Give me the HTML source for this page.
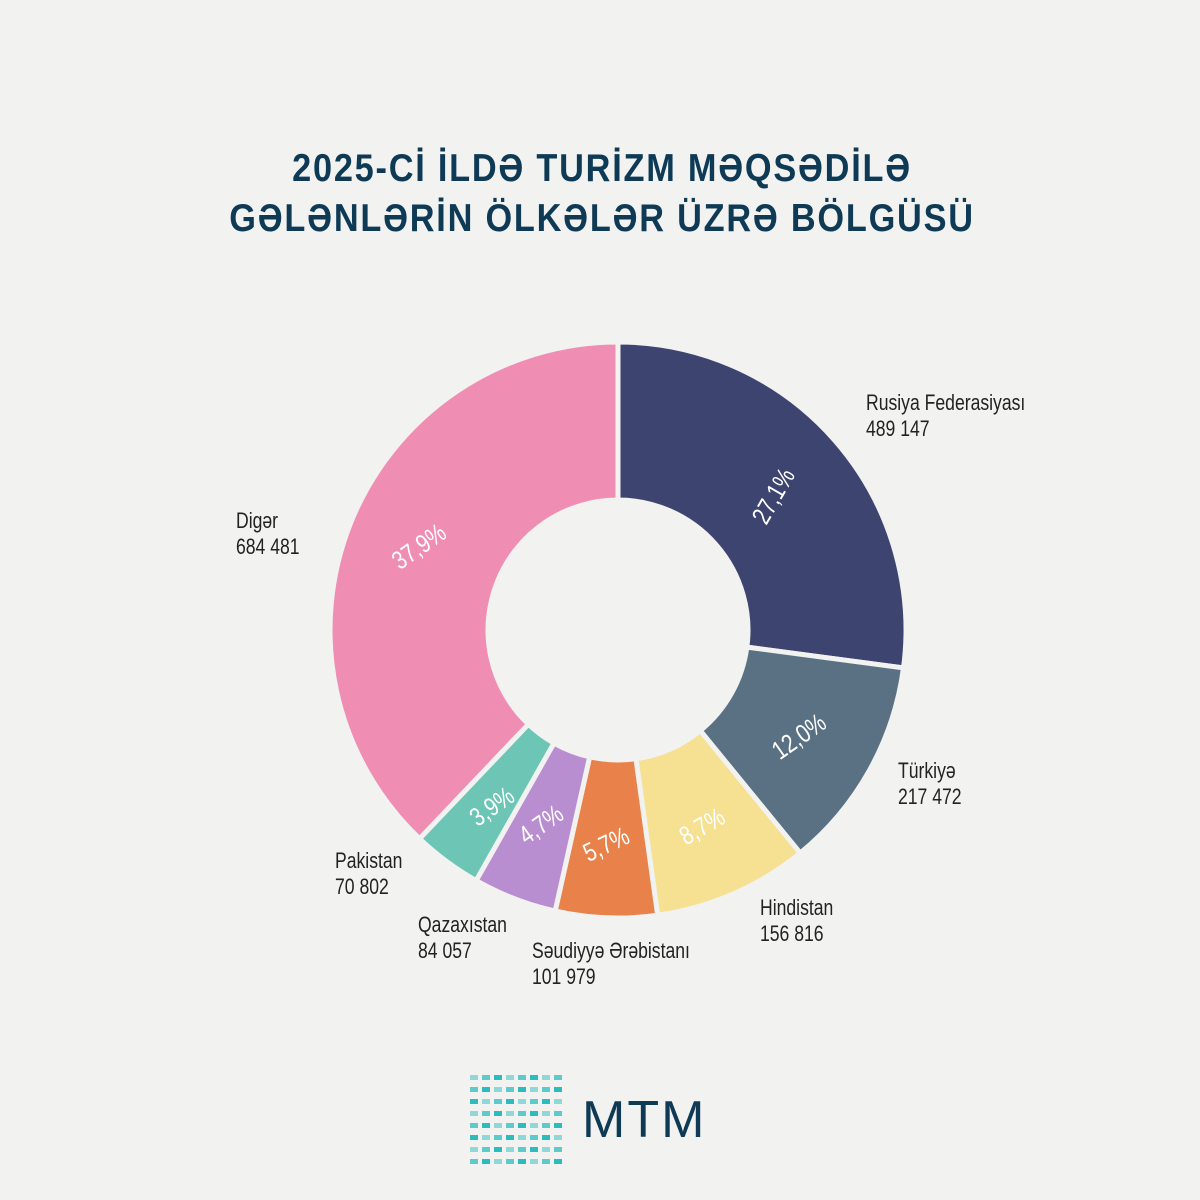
<!DOCTYPE html>
<html><head><meta charset="utf-8"><style>
body{margin:0;width:1200px;height:1200px;background:#f2f2f1;overflow:hidden;font-family:"Liberation Sans",sans-serif}
.t{position:absolute;left:0;width:1200px;text-align:center;color:#0e3a55;font-weight:bold;font-size:39px;letter-spacing:2px;transform:scaleX(0.88);transform-origin:617px 0}
</style></head><body>
<div class="t" style="top:147px">2025-Cİ İLDƏ TURİZM MƏQSƏDİLƏ</div>
<div class="t" style="top:197px">GƏLƏNLƏRİN ÖLKƏLƏR ÜZRƏ BÖLGÜSÜ</div>
<svg id="s" width="1200" height="1200" style="position:absolute;left:0;top:0"></svg>
<script>
var cx=618,cy=630,R=288,r=130;
var d=[[27.1,'#3e4470','27,1%',775,497,-60],[12.0,'#5a7184','12,0%',800,738,-35],[8.7,'#f5e191','8,7%',703,828,-30],[5.7,'#e8824a','5,7%',607,846,-25],[4.7,'#b98ed1','4,7%',542,826,-35],[3.9,'#6cc5b5','3,9%',493,808,-35],[37.9,'#f08db3','37,9%',420,548,-35]];
var h='',a=0;
function p(ang,rad){var t=(ang-90)*Math.PI/180;return [cx+rad*Math.cos(t),cy+rad*Math.sin(t)];}
d.forEach(function(x){var a0=a,a1=a+x[0]*3.6;a=a1;var l=(a1-a0)>180?1:0;
var A=p(a0,R),B=p(a1,R),C=p(a1,r),D=p(a0,r);
h+='<path d="M'+A+' A'+R+','+R+' 0 '+l+' 1 '+B+' L'+C+' A'+r+','+r+' 0 '+l+' 0 '+D+'Z" fill="'+x[1]+'" stroke="#f2f2f1" stroke-width="5"/>';
h+='<text transform="translate('+x[3]+' '+x[4]+') rotate('+x[5]+') scale(0.8 1)" fill="#fff" font-size="26" text-anchor="middle" dominant-baseline="middle">'+x[2]+'</text>';});
var L=[[866,410,'Rusiya Federasiyası','489 147'],[898,778,'Türkiyə','217 472'],[760,915,'Hindistan','156 816'],[532,958,'Səudiyyə Ərəbistanı','101 979'],[418,932,'Qazaxıstan','84 057'],[335,868,'Pakistan','70 802'],[236,528,'Digər','684 481']];
L.forEach(function(q){h+='<text transform="translate('+q[0]+' '+q[1]+') scale(0.8 1)" font-size="22" fill="#222"><tspan x="0" y="0">'+q[2]+'</tspan><tspan x="0" y="26">'+q[3]+'</tspan></text>';});
for(var i=0;i<8;i++)for(var j=0;j<8;j++){var x=470+j*12,y=1075+i*12;h+='<rect x="'+x+'" y="'+y+'" width="8" height="5" fill="#2bbdbd" opacity="'+(0.5+0.5*((i+j)%3)/2)+'"/>';}
h+='<text x="582" y="1137" font-size="52" fill="#0e3a55" letter-spacing="2">MTM</text>';
document.getElementById('s').innerHTML=h;
</script>
</body></html>
